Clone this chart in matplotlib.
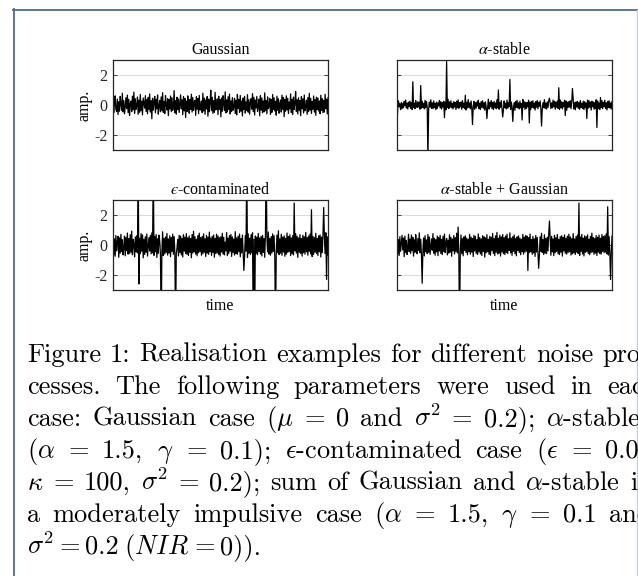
import numpy as np
import matplotlib
matplotlib.use("Agg")
import matplotlib.pyplot as plt
from matplotlib.lines import Line2D

# ---------------- data ----------------
titles = ["Gaussian", r"$\alpha$-stable", "$\u03f5$-contaminated", r"$\alpha$-stable + Gaussian"]
ytick_vals = [-2, 0, 2]
ytick_labels = ["-2", "0", "2"]

# base noise, in hundredths of amplitude units
gauss_base = [
 35,-52,12,61,-28,-44,40,-63,22,-41,57,5,-35,78,-46,30,-58,-12,49,-24,
 66,-51,38,-70,8,27,-44,59,-32,86,-55,41,-29,-6,53,-62,33,-48,70,-37,
 25,-66,47,14,-21,62,-43,36,-59,51,-30,74,-47,28,-92,45,-34,18,58,-52,
 39,-26,67,-61,-9,31,-45,54,-38,82,-49,24,-57,63,3,-33,42,-71,35,-27,
 60,-44,48,-36,-15,96,-53,29,-62,52,-31,40,-50,11,68,-25,34,-65,57,-39,
 45,-84,26,-43,61,-2,-55,37,-30,72,-47,50,-36,19,31,-69,55,-28,43,-58,
 64,-34,-8,27,-51,79,-40,46,-62,33,-26,57,-75,39,-45,16,99,-38,52,-56,
 30,-48,85,-33,-14,41,-64,58,-29,36,-79,47,-42,62,7,-37,88,-53,34,-46,
 55,-31,73,-60,28,-44,49,-35,-11,44,-57,32,-66,71,-23,38,-50,64,-41,26,
 -73,47,-30,58,-54,21,-37,69,-48,35,-61,13,42,-28,76,-45,51,-67,33,-20,
 57,-43,-10,39,-72,62,-35,47,-52,27,-46,81,-38,30,-59,54,-24,-5,44,-63,
 36,-49,70,-31,48,-40,25,-68,59,-36,42,-55,9,33,-47,66,-29,50,-78,37,
 -42,61,-33,45,-57,20,-26,74,-51,38,-64,53,-30,12,89,-44,35,-60,48,-37,
 29,-71,56,-25,41,-53,67,-39,-16,32,-62,50,-45,78,-34,44,-56,23,-28,60,
 -48,37,-69,52,-31,46,-40,27,-58,65,-36,43,-52,31,-47,71,-24,39,-60,49]

alpha_base = [
 15,-22,28,-12,8,-31,17,-25,10,-18,24,-4,33,-20,13,-27,19,-11,26,-23,
 16,-30,21,-15,12,-24,29,3,-17,22,-13,18,-28,14,-21,25,-16,11,-26,31,
 -19,23,-12,17,-29,20,-14,35,-22,15,-25,27,-18,12,-31,19,-23,14,-6,30,
 -20,22,-27,16,-13,25,-21,18,-32,13,-17,38,-24,21,-15,28,-19,11,-26,23,
 -14,17,-30,26,-18,34,-22,15,-12,20,-28,29,-16,13,-24,22,-33,18,-20,36,
 -15,14,-26,27,-19,31,-13,24,-29,16,-21,19,-7,32,-25,12,-30,23,-16,28,
 -22,15,-34,21,-14,26,-20,39,-27,18,-12,30,-23,17,-31,24,-18,13,-25,35,
 -19,22,-28,16,-15,29,-24,20,-33,27,-17,12,-26,33,-21,15,-11,25,-30,19,
 -13,28,-22,17,-35,23,-16,31,-20,14,-27,26,-19,10,-24,37,-14,21,-29,18,
 -23,16,-12,32,-26,19,-31,24,-17,28,-21,13,-34,22,-15,30,-25,18,-9,27,
 -20,24,-29,15,-18,36,-22,13,-27,21,-16,29,-32,17,-24,14,-19,33,-13,25,
 -28,20,-15,26,-23,12,-30,34,-18,22,-26,16,-12,31,-21,27,-35,19,-17,23,
 -14,29,-25,18,-20,38,-27,15,-32,21,-13,24,-22,17,-29,30,-16,11,-24,26,
 -31,22,-18,14,-26,33,-21,28,-15,19,-34,25,-12,20,-28,16,-23,35,-19,27,
 -24,13,-30,21,-16,29,-25,18,-11,32,-22,15,-33,24,-17,28,-20,14,-27,23]

eps_base = [
 52,-68,41,-75,63,-39,18,58,-82,47,-55,71,-44,36,-66,-22,59,-72,48,-37,
 80,-61,43,-57,69,-48,93,-65,38,12,-79,54,-46,62,-53,105,-70,45,-58,76,
 -42,67,-86,39,-63,55,-49,73,-74,-15,50,-40,64,-59,81,-52,46,-69,57,-45,
 70,-83,42,-56,66,25,-64,51,-38,88,-71,44,-60,53,-50,77,-67,40,-54,61,
 -78,49,-43,72,-62,56,-47,84,-58,-20,37,-73,65,-51,59,-66,45,-80,68,-41,
 52,-57,75,-63,48,-70,60,-49,43,-85,70,-54,91,-46,55,-61,38,-72,63,-52,
 79,-44,50,-68,57,-59,74,-48,42,-77,64,-55,53,-62,86,-45,47,-69,58,-50,
 67,-81,44,-57,72,-53,61,-64,49,-74,55,-47,78,-60,52,-66,19,-39,83,-71,
 46,-58,63,-42,71,-76,54,-50,40,-67,89,-56,48,-62,59,-45,73,-79,43,-53,
 66,-48,57,-70,62,-41,50,-84,75,-55,45,-63,68,-52,81,-47,39,-72,60,-58,
 53,-65,77,-44,47,-60,58,-73,64,-49,42,-82,70,-57,51,-46,87,-61,44,-68,
 56,-53,74,-43,62,-78,49,-59,66,-51,95,-64,41,-55,72,-69,53,-47,61,-75,
 45,-62,80,-50,57,-44,68,-71,48,-58,63,-66,52,-40,76,-54,59,-83,47,-49,
 69,-57,43,-74,65,-52,55,-61,84,-46,50,-68,60,-43,73,-59,46,-77,58,-63,
 51,-48,78,-56,44,-70,62,-45,67,-80,53,-51,71,-64,49,-57,82,-60,54,-66]

ag_base = [
 48,-61,37,-70,55,-42,14,64,-33,46,-78,59,-50,31,-63,-18,72,-45,40,-56,
 66,-38,52,-74,35,-48,69,10,-59,43,-36,81,-52,39,-67,57,-41,47,-73,62,
 -44,34,-58,70,-49,53,-62,-12,41,-35,76,-55,45,-68,36,-46,60,-71,50,-40,
 65,-57,38,-64,58,-43,73,-51,16,44,-66,32,-54,68,-47,51,-75,40,-39,63,
 -60,49,-45,79,-53,35,-69,56,-42,67,-58,42,-72,54,-37,61,-50,46,-65,38,
 -44,71,-61,53,-48,44,-77,65,-40,57,-55,36,-63,74,-46,50,-59,41,-70,62,
 -43,55,-81,47,-52,69,-45,39,-62,58,-68,52,-38,77,-56,43,-71,61,-49,84,
 -60,46,-54,66,-74,55,-47,70,-58,49,-64,60,-50,72,-57,42,-36,81,-53,45,
 -69,56,-42,67,-58,42,-72,54,-37,61,-50,46,-65,38,-44,71,-61,53,-48,64,
 -40,59,-66,48,-51,73,-45,37,-62,57,-53,41,-76,63,-47,50,-58,45,-70,55,
 -42,78,-49,36,-63,68,-55,44,-57,52,-39,74,-60,47,-68,58,-46,41,-71,65,
 -52,49,-43,70,-59,38,-64,56,-48,62,-74,51,-40,67,-55,45,-61,59,-50,72,
 -45,54,-67,43,-58,76,-52,40,-63,57,-47,66,-56,48,-69,53,-42,71,-60,46,
 -73,61,-49,55,-44,68,-57,39,-65,58,-51,79,-46,50,-62,44,-54,63,-70,52,
 -48,66,-58,45,-61,70,-43,57,-52,62,-47,74,-59,41,-67,55,-50,69,-57,60]

# impulsive spikes: position along the time axis (0..1) and amplitude
gauss_spike_pos = []
gauss_spike_amp = []
alpha_spike_pos = [0.0, 0.073, 0.109, 0.144, 0.222, 0.23, 0.318, 0.352, 0.419, 0.47, 0.493, 0.524,
                   0.54, 0.581, 0.617, 0.671, 0.71, 0.754, 0.781, 0.817, 0.884, 0.93, 0.946]
alpha_spike_amp = [-1.5, 1.55, 1.3, -3.6, -0.85, 2.9, 0.65, -1.3, -0.9, 1.0, -0.8, 1.7,
                   -1.1, -1.0, -1.2, -1.4, 0.45, 1.15, -0.7, 1.1, -0.9, -1.5, 0.5]
eps_spike_pos = [0.116, 0.12, 0.186, 0.225, 0.29, 0.609, 0.623, 0.651, 0.659, 0.713, 0.755,
                 0.843, 0.9225, 0.98, 0.992]
eps_spike_amp = [6.0, -2.6, 6.0, -6.0, -6.0, -1.7, 6.0, -6.0, -6.0, 6.0, -6.0,
                 2.8, 2.35, 2.5, -2.3]
ag_spike_pos = [0.116, 0.284, 0.2915, 0.609, 0.659, 0.71, 0.845, 0.981, 0.992]
ag_spike_amp = [-2.55, 1.2, -6.0, -1.7, -1.55, 1.6, 2.8, 2.55, -2.3]

caption_lines = [
    ["Figure", "1:", "Realisation", "examples", "for", "different", "noise", "pro-"],
    ["cesses.", "The", "following", "parameters", "were", "used", "in", "each"],
    ["case:", "Gaussian", "case", r"($\mu$", "=", "0", "and", r"$\sigma^2$", "=", "0.2);", r"$\alpha$-stable"],
    [r"($\alpha$", "=", "1.5,", r"$\gamma$", "=", "0.1);", r"$\epsilon$-contaminated", "case", r"($\epsilon$", "=", "0.01,"],
    [r"$\kappa$", "=", "100,", r"$\sigma^2$", "=", "0.2);", "sum", "of", "Gaussian", "and", r"$\alpha$-stable", "is"],
    ["a", "moderately", "impulsive", "case", r"($\alpha$", "=", "1.5,", r"$\gamma$", "=", "0.1", "and"],
    [r"$\sigma^2$", "=", "0.2", r"($NIR$", "=", "0))."],
]

# ---------------- figure ----------------
W, H = 638, 576
fig = plt.figure(figsize=(W / 100, H / 100), dpi=100)
fig.patch.set_facecolor("white")

def build(base, pos, amp):
    y = np.array(base, dtype=float) / 100.0
    n = len(y)
    for p, a in zip(pos, amp):
        y[int(round(p * (n - 1)))] = a
    return y

series = [
    build(gauss_base, gauss_spike_pos, gauss_spike_amp),
    build(alpha_base, alpha_spike_pos, alpha_spike_amp),
    build(eps_base, eps_spike_pos, eps_spike_amp),
    build(ag_base, ag_spike_pos, ag_spike_amp),
]

# axes boxes in pixels: (left, top, right, bottom)
boxes = [(113, 60, 328, 150), (397, 60, 612, 150), (113, 200, 328, 290), (397, 200, 612, 290)]
serif = "Liberation Serif"
fs = 11.5
for k, (l, t, r, b) in enumerate(boxes):
    ax = fig.add_axes([l / W, 1 - b / H, (r - l) / W, (b - t) / H])
    y = series[k]
    x = np.arange(len(y))
    ax.plot(x, y, color="black", lw=0.9)
    ax.set_xlim(0, len(y) - 1)
    ax.set_ylim(-3, 3)
    ax.set_xticks([])
    ax.set_yticks(ytick_vals)
    ax.grid(axis="y", color="#dcdcdc", lw=0.8)
    ax.set_axisbelow(True)
    ax.tick_params(axis="y", direction="in", length=3, width=0.6, right=True,
                   labelsize=fs, pad=4, colors="#262626")
    if k % 2 == 0:
        ax.set_yticklabels(ytick_labels, fontfamily=serif, fontsize=fs)
        ax.set_ylabel("amp.", fontfamily=serif, fontsize=fs, labelpad=1)
    else:
        ax.set_yticklabels([])
    if k >= 2:
        ax.set_xlabel("time", fontfamily=serif, fontsize=fs, labelpad=6)
    ax.set_title(titles[k], fontfamily=serif, fontsize=fs, pad=4, math_fontfamily="stix")
    for s in ax.spines.values():
        s.set_linewidth(0.9)
        s.set_color("#262626")

# frame of the page cut-out
fig.add_artist(Line2D([13.5 / W, 13.5 / W], [1 - 9 / H, 0], transform=fig.transFigure,
                      color="#4a6a94", lw=1.3))
fig.add_artist(Line2D([13 / W, 1.0], [1 - 9.5 / H, 1 - 9.5 / H], transform=fig.transFigure,
                      color="#4a6a94", lw=1.3))
fig.add_artist(Line2D([636.5 / W, 636.5 / W], [1 - 10 / H, 0], transform=fig.transFigure,
                      color="#c9cdd3", lw=1.0))

# ---------------- caption (justified lines) ----------------
cap_fs = 19
x0 = 27
baselines = [362, 394, 426, 458, 490, 522, 554]
last_targets = [602, 607, 546, 605, 630, 609, None]
renderer = fig.canvas.get_renderer()
for tokens, yb, tgt in zip(caption_lines, baselines, last_targets):
    texts = [fig.text(0, 1 - yb / H, tok, fontsize=cap_fs, family="cmr10",
                      math_fontfamily="cm", va="baseline", ha="left")
             for tok in tokens]
    widths = [t.get_window_extent(renderer).width for t in texts]
    if tgt is None:
        gap = 0.2 * cap_fs * 100 / 72
    else:
        gap = (tgt - x0 - sum(widths[:-1])) / (len(texts) - 1)
    xc = x0
    for t, w in zip(texts, widths):
        t.set_x(xc / W)
        xc += w + gap

fig.savefig("out.png", dpi=100, facecolor="white")
